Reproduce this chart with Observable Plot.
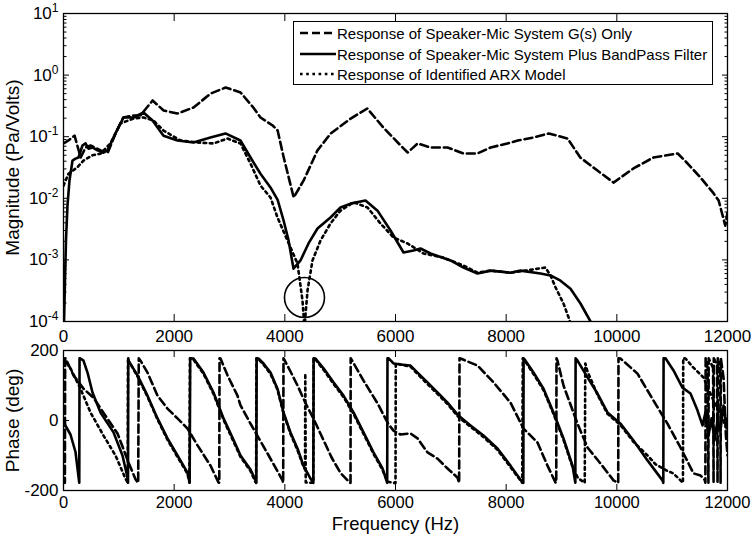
<!DOCTYPE html>
<html><head><meta charset="utf-8">
<script src="https://cdn.jsdelivr.net/npm/d3@7"></script>
<script src="https://cdn.jsdelivr.net/npm/@observablehq/plot@0.6"></script>
<style>
body{margin:0;background:#fff;}
#wrap{position:relative;width:751px;height:536px;background:#fff;font-family:"Liberation Sans",Arial,Helvetica,sans-serif;overflow:hidden;}
#topPanel{position:absolute;left:0;top:0;}
#botPanel{position:absolute;left:0;top:340px;}
#legend{position:absolute;left:293px;top:21px;width:418px;height:62px;border:1px solid #000;background:#fff;}
.row{position:absolute;left:0;height:20px;display:flex;align-items:center;font-size:15px;white-space:nowrap;color:#000;}
.row svg{flex:none;}
</style></head>
<body><div id="wrap"><div id="topPanel"></div><div id="botPanel"></div><div id="legend"></div></div>
<script>
const FONT = '"Liberation Sans", Arial, Helvetica, sans-serif';
const xTicks = [0, 2000, 4000, 6000, 8000, 10000, 12000];
const magTicks = [1e-4, 1e-3, 1e-2, 1e-1, 1, 10];
const phaseTicks = [-200, 0, 200];
const legendLabels = [
  "Response of Speaker-Mic System G(s) Only",
  "Response of Speaker-Mic System Plus BandPass Filter",
  "Response of Identified ARX Model"
];
const styles = {
  dash: "8,4",
  solid: null,
  dot: "2.6,3.6"
};

// Magnitude (Pa/Volts) vs frequency (Hz)
const magSystem = [[0,0.078],[90,0.087],[200,0.104],[310,0.046],[400,0.067],[490,0.072],[670,0.060],[800,0.055],[940,0.113],[1080,0.205],[1270,0.221],[1390,0.221],[1610,0.387],[1810,0.266],[2060,0.238],[2350,0.298],[2660,0.502],[2930,0.630],[3200,0.522],[3430,0.298],[3560,0.205],[3780,0.152],[3870,0.126],[3980,0.046],[4160,0.0103],[4340,0.0195],[4590,0.060],[4830,0.113],[5190,0.197],[5490,0.287],[5780,0.141],[6040,0.0805],[6220,0.0554],[6400,0.0776],[6630,0.0668],[6940,0.0668],[7230,0.0534],[7480,0.0534],[7720,0.0668],[8020,0.0776],[8210,0.0867],[8490,0.097],[8770,0.113],[9110,0.0935],[9340,0.0459],[9650,0.0282],[9940,0.018],[10300,0.0305],[10660,0.0459],[11100,0.0534],[11280,0.0367],[11510,0.0218],[11750,0.012],[11840,0.0092],[11910,0.0053],[11960,0.0036],[12000,0.0059]];
const magFiltered = [[10,1e-4],[27,4.6e-4],[45,2.1e-3],[72,7.6e-3],[108,0.0195],[163,0.041],[217,0.044],[271,0.046],[343,0.072],[398,0.078],[452,0.064],[524,0.067],[614,0.060],[723,0.055],[795,0.060],[940,0.113],[1084,0.205],[1265,0.205],[1446,0.247],[1609,0.183],[1807,0.104],[2060,0.0867],[2349,0.0805],[2656,0.097],[2927,0.113],[3198,0.0867],[3380,0.046],[3560,0.025],[3740,0.015],[3870,0.0094],[3976,0.0044],[4066,0.0021],[4157,7.2e-4],[4283,9.8e-4],[4428,1.85e-3],[4590,3.23e-3],[4825,4.88e-3],[5006,7.1e-3],[5187,8.2e-3],[5458,9.2e-3],[5675,6.3e-3],[5910,3.0e-3],[6145,1.32e-3],[6325,1.42e-3],[6452,1.53e-3],[6632,1.27e-3],[6994,9.8e-4],[7229,7.5e-4],[7482,6.0e-4],[7717,6.7e-4],[8078,6.2e-4],[8259,6.7e-4],[8620,6.0e-4],[8801,5.6e-4],[8982,4.6e-4],[9163,3.4e-4],[9343,1.96e-4],[9524,1e-4],[9560,8e-5]];
const magARX = [[0,0.016],[90,0.025],[253,0.032],[361,0.041],[524,0.050],[669,0.053],[849,0.078],[1030,0.164],[1265,0.197],[1446,0.205],[1626,0.183],[1807,0.126],[2114,0.0867],[2422,0.0805],[2711,0.0776],[2964,0.0935],[3198,0.0776],[3379,0.0367],[3560,0.0161],[3741,0.0103],[3867,0.0049],[4048,0.00206],[4229,8.7e-4],[4319,2.2e-4],[4355,8e-5],[4410,3.2e-4],[4500,9.8e-4],[4645,2.06e-3],[4825,3.9e-3],[5006,6.3e-3],[5241,8.6e-3],[5494,7.1e-3],[5729,3.9e-3],[5964,2.31e-3],[6217,1.85e-3],[6506,1.27e-3],[6867,1.09e-3],[7229,8.1e-4],[7482,6.2e-4],[7717,6.7e-4],[8078,6.2e-4],[8349,6.7e-4],[8566,7.2e-4],[8710,7.5e-4],[8801,5.6e-4],[8891,3.6e-4],[9036,1.96e-4],[9144,1.06e-4],[9170,8e-5]];
const circleNote = [[4355, 2.45e-4]];

// Phase (deg) vs frequency (Hz)
const phaseSystem = [[0,-170],[25,-178],[30,178],[36,178],[181,129],[361,91],[542,65],[795,5],[976,-37],[1175,-120],[1301,-168],[1350,-178],[1360,178],[1392,171],[1518,137],[1699,71],[1879,34],[2060,6],[2241,-23],[2422,-71],[2657,-129],[2801,-177],[2815,-178],[2820,178],[2837,177],[2964,129],[3144,71],[3199,43],[3379,-9],[3687,-94],[3958,-171],[3970,-178],[3976,178],[4102,140],[4229,100],[4373,50],[4518,5],[4681,-50],[4843,-105],[5006,-150],[5170,-177],[5187,-178],[5190,178],[5422,114],[5675,49],[5870,-10],[5964,-29],[6090,-40],[6271,-37],[6398,-51],[6578,-91],[6759,-109],[6940,-137],[7120,-163],[7150,-178],[7157,178],[7175,177],[7482,157],[7771,109],[8078,51],[8313,-23],[8566,-63],[8747,-129],[8891,-177],[8905,-178],[8910,178],[8927,171],[9036,100],[9289,-9],[9470,-77],[9705,-123],[9940,-171],[10012,-177],[10025,-178],[10030,178],[10066,177],[10373,134],[10662,57],[10915,-9],[11150,-77],[11385,-151],[11512,-157],[11590,-170],[11600,-178],[11605,178],[11640,150],[11655,-178],[11660,178],[11740,150],[11748,-178],[11752,178],[11810,160],[11820,-178],[11825,178],[11870,130],[11875,-178],[11880,178],[11930,120],[11970,-40],[12000,-100]];
const phaseFiltered = [[0,-5],[126,-40],[217,-90],[271,-160],[285,-178],[290,178],[307,177],[361,171],[434,137],[524,80],[669,23],[904,-34],[1066,-100],[1157,-163],[1166,-178],[1170,178],[1175,171],[1337,129],[1518,71],[1699,6],[1879,-51],[2060,-100],[2241,-149],[2280,-178],[2290,178],[2349,177],[2530,137],[2711,80],[2892,6],[3072,-55],[3199,-100],[3379,-140],[3470,-170],[3485,-178],[3490,178],[3524,177],[3614,163],[3741,137],[3867,91],[3976,23],[4102,-34],[4229,-80],[4337,-129],[4464,-166],[4515,-178],[4520,178],[4554,177],[4699,149],[4879,109],[5060,71],[5241,23],[5422,-34],[5602,-91],[5765,-137],[5850,-178],[5855,178],[5873,178],[5964,163],[6090,160],[6271,157],[6398,137],[6578,109],[6759,80],[6940,51],[7138,14],[7355,-14],[7590,-43],[7843,-80],[8078,-129],[8295,-177],[8310,-178],[8315,178],[8349,171],[8494,137],[8675,91],[8855,23],[9036,-51],[9199,-129],[9250,-178],[9255,178],[9289,171],[9470,123],[9650,77],[9831,23],[10066,-9],[10301,-57],[10554,-114],[10825,-171],[10840,-178],[10845,178],[10879,178],[11024,143],[11186,94],[11331,77],[11457,29],[11548,-14],[11602,23],[11657,-43],[11711,6],[11765,-57],[11819,0],[11873,-29],[11928,43],[11982,-14],[12000,5]];
const phaseARX = [[0,177],[126,149],[307,91],[488,23],[723,-43],[940,-100],[1120,-166],[1160,-178],[1166,178],[1175,171],[1337,126],[1518,68],[1699,3],[1879,-55],[2060,-104],[2241,-152],[2275,-178],[2285,178],[2349,174],[2530,133],[2711,76],[2892,2],[3072,-60],[3199,-104],[3379,-144],[3465,-175],[3480,-178],[3488,178],[3524,175],[3614,160],[3741,133],[3867,88],[3976,20],[4102,-38],[4229,-85],[4337,-132],[4365,-140],[4370,134],[4378,-177],[4500,-178],[4515,-178],[4520,178],[4554,174],[4699,145],[4879,105],[5060,67],[5241,19],[5422,-38],[5602,-95],[5765,-141],[5855,-175],[5964,-178],[6000,-179],[6005,163],[6090,160],[6271,154],[6398,133],[6578,104],[6759,76],[6940,47],[7138,10],[7355,-18],[7590,-47],[7843,-84],[8078,-133],[8290,-178],[8300,178],[8349,168],[8494,133],[8675,87],[8855,19],[9036,-55],[9199,-133],[9300,-165],[9420,-178],[9430,163],[9470,140],[9650,74],[9831,19],[10066,-13],[10301,-61],[10554,-100],[10700,-125],[10900,-143],[11020,-151],[11150,-171],[11195,-178],[11200,178],[11241,177],[11385,151],[11566,123],[11747,57],[11873,20],[12000,-29]];

const minorTicks = [];
for (let e = -4; e < 1; e++) for (let k = 2; k <= 9; k++) minorTicks.push(k * Math.pow(10, e));

const LW = 2.6;
function seriesLines(a, b, c) {
  return [
    Plot.line(a, {x: d => d[0], y: d => d[1], stroke: "#000", strokeWidth: LW, strokeDasharray: styles.dash, clip: true}),
    Plot.line(b, {x: d => d[0], y: d => d[1], stroke: "#000", strokeWidth: LW, clip: true}),
    Plot.line(c, {x: d => d[0], y: d => d[1], stroke: "#000", strokeWidth: LW, strokeDasharray: styles.dot, clip: true})
  ];
}
const blank = () => "";
function inwardTicks(xt, yt, xs, ys, ymt) {
  const m = [
    Plot.axisX({anchor: "bottom", ticks: xt, tickSize: xs, dy: -xs, tickFormat: blank, label: null}),
    Plot.axisX({anchor: "top", ticks: xt, tickSize: xs, dy: xs, tickFormat: blank, label: null}),
    Plot.axisY({anchor: "left", ticks: yt, tickSize: ys, dx: ys, tickFormat: blank, label: null}),
    Plot.axisY({anchor: "right", ticks: yt, tickSize: ys, dx: -ys, tickFormat: blank, label: null})
  ];
  if (ymt) m.push(
    Plot.axisY({anchor: "left", ticks: ymt, tickSize: 3.5, dx: 3.5, tickFormat: blank, label: null}),
    Plot.axisY({anchor: "right", ticks: ymt, tickSize: 3.5, dx: -3.5, tickFormat: blank, label: null})
  );
  return m;
}

const topPlot = Plot.plot({
  width: 751, height: 345,
  marginLeft: 63, marginRight: 24, marginTop: 13, marginBottom: 24,
  x: {domain: [0, 12000]},
  y: {type: "log", domain: [1e-4, 10]},
  style: {fontFamily: FONT, fontSize: "17px", color: "#000", background: "transparent", overflow: "visible"},
  marks: [
    ...seriesLines(magSystem, magFiltered, magARX),
    Plot.dot(circleNote, {x: d => d[0], y: d => d[1], r: 20, stroke: "#000", strokeWidth: 1.6, fill: "none"}),
    ...inwardTicks(xTicks, magTicks, 7, 6, minorTicks),
    Plot.axisX({anchor: "bottom", ticks: xTicks, tickSize: 0, tickPadding: 8, tickFormat: d => String(d), label: null}),
    Plot.axisY({anchor: "left", ticks: magTicks, tickSize: 0, tickPadding: 5, tickFormat: d => String(Math.round(Math.log10(d))), label: null}),
    Plot.text(["Magnitude (Pa/Volts)"], {text: d => d, frameAnchor: "left", textAnchor: "middle", lineAnchor: "middle", dx: -51, rotate: -90, fontSize: 19}),
    Plot.frame({stroke: "#000", strokeWidth: 1.3})
  ]
});
topPlot.querySelectorAll('g[aria-label="y-axis tick label"] text').forEach(t => {
  const e = t.textContent;
  if (!e) return;
  t.textContent = "10";
  const ts = document.createElementNS("http://www.w3.org/2000/svg", "tspan");
  ts.setAttribute("dy", "-7");
  ts.setAttribute("font-size", "12px");
  ts.textContent = e;
  t.appendChild(ts);
});
document.getElementById("topPanel").appendChild(topPlot);

const botPlot = Plot.plot({
  width: 751, height: 196,
  marginLeft: 63, marginRight: 24, marginTop: 10, marginBottom: 46,
  x: {domain: [0, 12000]},
  y: {domain: [-200, 200]},
  style: {fontFamily: FONT, fontSize: "17px", color: "#000", background: "transparent", overflow: "visible"},
  marks: [
    ...seriesLines(phaseSystem, phaseFiltered, phaseARX),
    ...inwardTicks(xTicks, phaseTicks, 6, 6, null),
    Plot.axisX({anchor: "bottom", ticks: xTicks, tickSize: 0, tickPadding: 6, fontSize: 16.5, tickFormat: d => String(d), label: null}),
    Plot.axisY({anchor: "left", ticks: phaseTicks, tickSize: 0, tickPadding: 5, tickFormat: d => String(d), label: null}),
    Plot.text(["Phase (deg)"], {text: d => d, frameAnchor: "left", textAnchor: "middle", lineAnchor: "middle", dx: -51, rotate: -90, fontSize: 19}),
    Plot.text(["Frequency (Hz)"], {text: d => d, frameAnchor: "bottom", textAnchor: "middle", lineAnchor: "middle", dy: 34, fontSize: 18.5}),
    Plot.frame({stroke: "#000", strokeWidth: 1.3})
  ]
});
document.getElementById("botPanel").appendChild(botPlot);

const legend = document.getElementById("legend");
const dashes = [styles.dash, styles.solid, styles.dot];
const rowTops = [1, 22, 42];
legendLabels.forEach((lab, i) => {
  const row = document.createElement("div");
  row.className = "row";
  row.style.top = rowTops[i] + "px";
  row.innerHTML = `<svg width="43" height="20"><line x1="6" x2="42" y1="10" y2="10" stroke="#000" stroke-width="${LW}" ${dashes[i] ? `stroke-dasharray="${dashes[i]}"` : ""}/></svg><span>${lab}</span>`;
  legend.appendChild(row);
});
</script></body></html>
